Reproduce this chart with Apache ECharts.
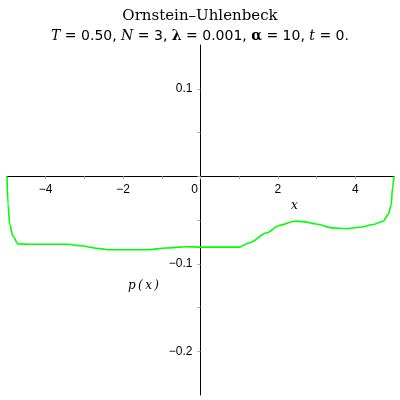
<!DOCTYPE html>
<html><head><meta charset="utf-8">
<script src="https://cdn.jsdelivr.net/npm/echarts@6/dist/echarts.min.js"></script>
<style>html,body{margin:0;padding:0;background:#fff}#c{width:400px;height:400px}</style>
</head><body><div id="c"></div>
<script>
const xs = [-5.0, -4.974, -4.93, -4.845, -4.716, -4.41, -3.9, -3.43, -3.12, -2.6, -2.35, -1.9, -1.39, -0.88, -0.36, 0.0, 0.5, 1.0, 1.27, 1.70, 2.05, 2.43, 2.65, 2.99, 3.42, 3.77, 4.11, 4.46, 4.72, 4.85, 4.93, 4.96, 5.0];
const ys = [0.0, -0.032, -0.055, -0.0686, -0.0774, -0.0777, -0.0777, -0.0777, -0.0795, -0.0827, -0.084, -0.084, -0.084, -0.082, -0.0805, -0.081, -0.081, -0.081, -0.076, -0.0648, -0.056, -0.0514, -0.0518, -0.0545, -0.059, -0.060, -0.0583, -0.0552, -0.0514, -0.0438, -0.0323, -0.0133, 0.0];
const titleMain = 'Ornstein\u2013Uhlenbeck';
const xName = 'x';
const yName = 'p\u2009(\u2009x\u2009)';

const X_MIN = -5, X_MAX = 5, Y_MIN = -0.25, Y_MAX = 0.15;
const G = {left: 7, top: 45, width: 387, height: 350};
const chart = echarts.init(document.getElementById('c'));
const data = xs.map((x, i) => [x, ys[i]]);
const isMult = (v, s) => Math.abs(Math.round(v / s) * s - v) < 1e-9;
const fmt = v => (v < 0 ? '\u2212' : '') + String(Math.abs(Math.round(v * 100) / 100));
const xOff = -G.height * (0 - Y_MIN) / (Y_MAX - Y_MIN);
const yOff = -G.width * (0 - X_MIN) / (X_MAX - X_MIN);
chart.setOption({
  animation: false,
  title: [{
    text: titleMain, left: 'center', top: 4,
    textStyle: {fontFamily: 'DejaVu Serif', fontSize: 15, fontWeight: 'normal', color: '#000'}
  }, {
    text: '{i|T}{n| = 0.50, }{i|N}{n| = 3, }{b|\u03bb}{n| = 0.001, }{b|\u03b1}{n| = 10, }{i|t}{n| = 0.}',
    left: 'center', top: 24,
    textStyle: {
      fontWeight: 'normal',
      rich: {
        i: {fontFamily: 'DejaVu Serif', fontStyle: 'italic', fontWeight: 'normal', fontSize: 14, color: '#000'},
        n: {fontFamily: 'DejaVu Sans', fontWeight: 'normal', fontSize: 14, color: '#000'},
        b: {fontFamily: 'DejaVu Serif', fontWeight: 'bold', fontSize: 14, color: '#000'}
      }
    }
  }],
  grid: Object.assign({containLabel: false, outerBoundsMode: 'none'}, G),
  xAxis: {
    type: 'value', min: X_MIN, max: X_MAX, interval: 1, position: 'bottom', offset: xOff,
    axisLine: {onZero: false, lineStyle: {color: '#000', width: 1}},
    axisTick: {show: true, length: 3, lineStyle: {color: '#aaa'}},
    splitLine: {show: false},
    axisLabel: {
      margin: 7, color: '#000', fontFamily: 'Liberation Sans', fontSize: 12,
      showMinLabel: false, showMaxLabel: false,
      formatter: v => {
        if (!isMult(v, 2)) return '';
        if (Math.abs(v) < 1e-9) return '{z|0}';
        return fmt(v);
      },
      rich: {z: {fontFamily: 'Liberation Sans', fontSize: 12, color: '#000', padding: [0, 12, 0, 0]}}
    }
  },
  yAxis: {
    type: 'value', min: Y_MIN, max: Y_MAX, interval: 0.05, position: 'left', offset: yOff,
    axisLine: {onZero: false, lineStyle: {color: '#000', width: 1}},
    axisTick: {show: true, length: 3, lineStyle: {color: '#aaa'}},
    splitLine: {show: false},
    axisLabel: {
      margin: 8, color: '#000', fontFamily: 'Liberation Sans', fontSize: 12,
      showMinLabel: false, showMaxLabel: false,
      formatter: v => (isMult(v, 0.1) && Math.abs(v) > 1e-9) ? fmt(v) : ''
    }
  },
  graphic: [
    {type: 'text', left: 291, top: 200, style: {text: xName, font: 'italic 12px "DejaVu Serif"', fill: '#000'}},
    {type: 'text', left: 128, top: 280, style: {text: yName, font: 'italic 12px "DejaVu Serif"', fill: '#000'}}
  ],
  series: [{
    type: 'line', data: data, showSymbol: false, smooth: 0.3, smoothMonotone: 'x',
    lineStyle: {color: '#00ff00', width: 1.6}
  }]
});
</script></body></html>
